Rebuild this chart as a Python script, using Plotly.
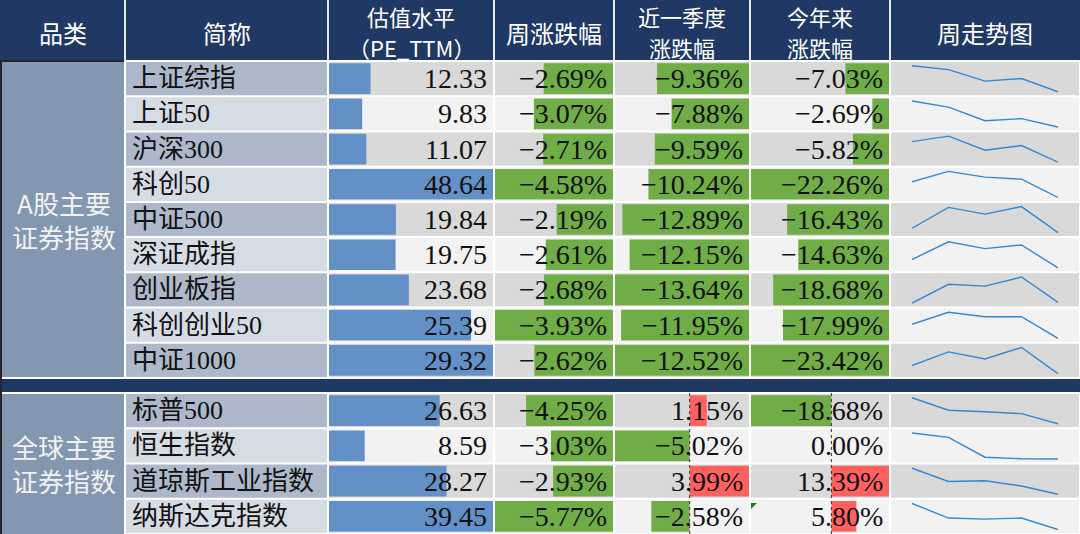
import plotly.graph_objects as go

W, H = 1080, 534

# ---------------- data ----------------
header_labels = [["品类"], ["简称"], ["估值水平", "（PE_TTM）"], ["周涨跌幅"],
                 ["近一季度", "涨跌幅"], ["今年来", "涨跌幅"], ["周走势图"]]
group_labels = ["A股主要<br>证券指数", "全球主要<br>证券指数"]

names_a = ["上证综指", "上证50", "沪深300", "科创50", "中证500",
           "深证成指", "创业板指", "科创创业50", "中证1000"]
names_g = ["标普500", "恒生指数", "道琼斯工业指数", "纳斯达克指数"]

pe_a = [12.33, 9.83, 11.07, 48.64, 19.84, 19.75, 23.68, 25.39, 29.32]
pe_g = [26.63, 8.59, 28.27, 39.45]

week_a = [-2.69, -3.07, -2.71, -4.58, -2.19, -2.61, -2.68, -3.93, -2.62]
week_g = [-4.25, -3.03, -2.93, -5.77]

quarter_a = [-9.36, -7.88, -9.59, -10.24, -12.89, -12.15, -13.64, -11.95, -12.52]
quarter_g = [1.15, -5.02, 3.99, -2.58]

ytd_a = [-7.03, -2.69, -5.82, -22.26, -16.43, -14.63, -18.68, -17.99, -23.42]
ytd_g = [-18.68, 0.00, 13.39, 5.80]

# weekly trend: relative level of each day within the week (estimated from the sparklines)
trend_days = ["周一", "周二", "周三", "周四", "周五"]
trend_a = [
    [1.00, 0.85, 0.41, 0.51, 0.00],
    [1.00, 0.76, 0.24, 0.32, 0.00],
    [0.79, 1.00, 0.46, 0.64, 0.00],
    [0.60, 1.00, 0.78, 0.70, 0.00],
    [0.17, 0.97, 0.71, 1.00, 0.00],
    [0.32, 1.00, 0.74, 0.88, 0.00],
    [0.00, 0.72, 0.65, 1.00, 0.03],
    [0.54, 1.00, 0.83, 0.83, 0.00],
    [0.31, 0.83, 0.56, 1.00, 0.00],
]
trend_g = [
    [1.00, 0.52, 0.46, 0.39, 0.00],
    [1.00, 0.83, 0.07, 0.01, 0.00],
    [1.00, 0.49, 0.52, 0.32, 0.00],
    [1.00, 0.44, 0.40, 0.44, 0.00],
]

# data-bar scaling groups (rows that share one bar scale)
bar_groups = [("a", list(range(0, 7))), ("a", [7, 8]), ("g", [0, 1, 2, 3])]

# ---------------- styling / geometry ----------------
NAVY = "#203864"
CAT = "#8497B0"
NAME_DARK, NAME_LIGHT = "#ADB9CA", "#D6DCE4"
CELL_DARK, CELL_LIGHT = "#D9D9D9", "#F2F2F2"
BLUE, GREEN, RED = "#6490C8", "#70AD47", "#FF6161"
SPARK = "#3388D2"
CJK = "Noto Sans CJK SC"
SERIF = "Liberation Serif, Noto Sans CJK SC"

col_edges = [0, 125, 328, 494, 614, 750, 890, 1080]
HEAD_B = 61
A_T, A_B = 61, 378
G_T, G_B = 393, 534
n_a, n_g = len(names_a), len(names_g)
a_edges = [A_T + i * (A_B - A_T) / n_a for i in range(n_a + 1)]
g_edges = [G_T + i * (G_B - G_T) / n_g for i in range(n_g + 1)]


def px(x):
    return x / W


def py(y):
    return 1 - y / H


shapes = []
annotations = []


def rect(x0, y0, x1, y1, color, layer="below"):
    shapes.append(dict(type="rect", xref="paper", yref="paper",
                       x0=px(x0), x1=px(x1), y0=py(y1), y1=py(y0),
                       fillcolor=color, line=dict(width=0), layer=layer))


def line(x0, y0, x1, y1, color, width=2, dash="solid", layer="below"):
    shapes.append(dict(type="line", xref="paper", yref="paper",
                       x0=px(x0), x1=px(x1), y0=py(y0), y1=py(y1),
                       line=dict(color=color, width=width, dash=dash), layer=layer))


# header
rect(0, 0, W, HEAD_B - 1, NAVY)
for e in col_edges[1:-1]:
    line(e, 0, e, HEAD_B, "#E8E8E8", 2)
for i, lines in enumerate(header_labels):
    cx = (col_edges[i] + col_edges[i + 1]) / 2
    ys = [32] if len(lines) == 1 else [16, 46.5]
    for lab, yy in zip(lines, ys):
        annotations.append(dict(text=lab, xref="paper", yref="paper", x=px(cx), y=py(yy),
                                xanchor="center", yanchor="middle", showarrow=False,
                                font=dict(family=CJK, size=22 if len(lines) > 1 else 24,
                                          color="white")))

# category column + separator
rect(1, A_T + 1, col_edges[1] - 1, A_B - 1, CAT)
rect(1, G_T + 1, col_edges[1] - 1, G_B, CAT)
rect(0, A_B + 1, W, G_T - 1, NAVY)
line(1, HEAD_B, 1, H, "#262626", 2)
line(0, HEAD_B, col_edges[1] - 1, HEAD_B, "#262626", 2)
for lab, (t, b) in zip(group_labels, [(A_T, A_B), (G_T, G_B)]):
    annotations.append(dict(text=lab, xref="paper", yref="paper",
                            x=px(col_edges[1] / 2 + 1), y=py((t + b) / 2),
                            xanchor="center", yanchor="middle", showarrow=False,
                            font=dict(family=CJK, size=26, color="#F2F2F2")))

# row cells
for edges in (a_edges, g_edges):
    for r in range(len(edges) - 1):
        t, b = edges[r], edges[r + 1]
        for c in range(1, 7):
            if c == 1:
                col = NAME_DARK if r % 2 == 0 else NAME_LIGHT
            else:
                col = CELL_DARK if r % 2 == 0 else CELL_LIGHT
            rect(col_edges[c] + 1, t + 1, col_edges[c + 1] - 1, min(b - 1, H), col)

layout_axes = {}
traces = []

# y axes for the two blocks
layout_axes["yaxis"] = dict(domain=[py(A_B), py(A_T)], range=[n_a - 0.5, -0.5],
                            visible=False, fixedrange=True)
layout_axes["yaxis2"] = dict(domain=[py(G_B), py(G_T)], range=[n_g - 0.5, -0.5],
                             visible=False, fixedrange=True)

# names
for yname, names in (("y", names_a), ("y2", names_g)):
    for i, nm in enumerate(names):
        annotations.append(dict(text=nm, xref="paper", yref=yname, x=px(col_edges[1] + 5), y=i,
                                xanchor="left", yanchor="middle", showarrow=False,
                                font=dict(family=SERIF, size=26, color="#111111")))

# data-bar columns
value_cols = [(pe_a, pe_g, False), (week_a, week_g, True),
              (quarter_a, quarter_g, True), (ytd_a, ytd_g, True)]
for ci, (va, vg, is_pct) in enumerate(value_cols):
    left, right = col_edges[ci + 2], col_edges[ci + 3]
    for gi, (blk, rows) in enumerate(bar_groups):
        n = 1 + ci * 3 + gi
        xname = "x" if n == 1 else f"x{n}"
        yname = "y" if blk == "a" else "y2"
        src = va if blk == "a" else vg
        vals = [src[r] for r in rows]
        lo, hi = min(0, min(vals)), max(0, max(vals))
        layout_axes["xaxis" if n == 1 else f"xaxis{n}"] = dict(
            domain=[px(left + 1), px(right - 1)], range=[lo, hi],
            visible=False, fixedrange=True, anchor=yname)
        if is_pct:
            colors = [GREEN if v < 0 else RED for v in vals]
        else:
            colors = [BLUE] * len(vals)
        traces.append(go.Bar(x=vals, y=rows, orientation="h", width=0.87,
                             marker=dict(color=colors, line=dict(width=0)),
                             xaxis=xname, yaxis=yname, hoverinfo="skip",
                             showlegend=False))
        if lo < 0 < hi:
            band = (A_T, A_B) if blk == "a" else (G_T, G_B)
            shapes.append(dict(type="line", xref=xname, yref="paper", x0=0, x1=0,
                               y0=py(band[1]), y1=py(band[0]),
                               line=dict(color="#333333", width=1, dash="dot"),
                               layer="above"))
        for r, v in zip(rows, vals):
            txt = f"{v:.2f}%" if is_pct else f"{v:.2f}"
            txt = txt.replace("-", "\u2212")
            annotations.append(dict(text=txt, xref="paper", yref=yname, x=px(right - 5), y=r,
                                    xanchor="right", yanchor="middle", showarrow=False,
                                    font=dict(family=SERIF, size=28, color="#111111")))

# sparklines
sx = 13
layout_axes[f"xaxis{sx}"] = dict(domain=[px(912), px(1058)], type="category",
                                 range=[0, len(trend_days) - 1], visible=False,
                                 fixedrange=True, anchor="y3")
ax_y = 3
for edges, trends in ((a_edges, trend_a), (g_edges, trend_g)):
    for r, vals in enumerate(trends):
        t, b = edges[r], edges[r + 1]
        lo, hi = min(vals), max(vals)
        span = (hi - lo) or 1
        layout_axes[f"yaxis{ax_y}"] = dict(domain=[py(b), py(t)],
                                           range=[lo - 0.17 * span, hi + 0.18 * span],
                                           visible=False, fixedrange=True, anchor=f"x{sx}")
        traces.append(go.Scatter(x=trend_days, y=vals, mode="lines",
                                 line=dict(color=SPARK, width=1.4),
                                 xaxis=f"x{sx}", yaxis=f"y{ax_y}",
                                 hoverinfo="skip", showlegend=False))
        ax_y += 1

# small Excel indicator triangle
shapes.append(dict(type="path", xref="paper", yref="paper",
                   path=f"M {px(751)} {py(503)} L {px(757)} {py(503)} L {px(751)} {py(509)} Z",
                   fillcolor="#1E7B1E", line=dict(width=0), layer="above"))

fig = go.Figure(data=traces)
fig.update_layout(width=W, height=H, margin=dict(l=0, r=0, t=0, b=0),
                  paper_bgcolor="white", plot_bgcolor="rgba(0,0,0,0)",
                  barmode="overlay", showlegend=False,
                  shapes=shapes, annotations=annotations, **layout_axes)
fig.write_html("out.html", config={"displayModeBar": False, "staticPlot": True},
               post_script="document.body.style.margin='0';document.body.style.overflow='hidden';")
